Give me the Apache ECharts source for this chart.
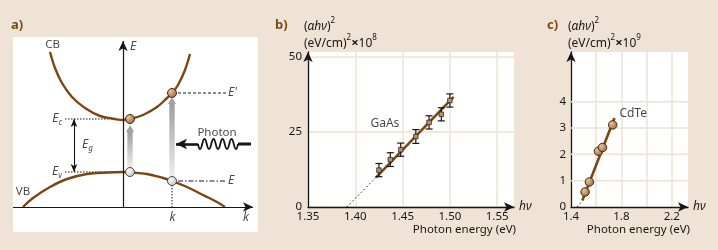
<!DOCTYPE html>
<html>
<head>
<meta charset="utf-8">
<script src="https://cdn.jsdelivr.net/npm/echarts@6/dist/echarts.min.js"></script>
<style>
html, body { margin: 0; padding: 0; background: #efe3d5; }
#chart { width: 718px; height: 250px; }
</style>
</head>
<body>
<div id="chart"></div>
<script>
// panel a: band diagram (k, E in arbitrary units)
var cbCurve = [[-73,155],[-68,139],[-61,124],[-51,110],[-38,99],[-23,91],[-8,88],[0,87],[7,88],[20,92],[34,100],[44,109],[49,114],[55,122],[62,137],[67,153]];
var vbCurve = [[-100,0],[-90,9],[-73,20],[-56,28],[-36,33],[-16,34.5],[0,35],[7,34.5],[24,33],[40,29],[49,26],[64,20],[80,12],[94,5],[102,0]];
var cbDots = [[7,88],[49,114]];
var vbDots = [[7,35],[49,26]];
var absorption = [[7,39,82],[49,30,110]];   // k, from E, to E
var levelEc = [[-58,88],[-15,88]];
var levelEv = [[-58,35],[-1,35]];
var levelEprime = [[55,114],[104,114]];
var levelE = [[55,26],[104,26]];
var dropK = [[49,22],[49,0]];
var gapArrow = [[-49,35],[-49,88]];
var photonWave = [[75,63],[77,58],[81.5,68],[86,58],[90.5,68],[95,58],[99.5,68],[104,58],[108.5,68],[113,58],[115,63]];
var photonTail = [[115,63],[128,63]];
var photonHead = [[75,63],[53,63]];
var kAxis = [[-110,0],[130,0]];
var eAxis = [[0,0],[0,166]];

// panel b: GaAs
var gaasEnergy = [1.425, 1.437, 1.448, 1.464, 1.478, 1.491, 1.500];
var gaasValue = [12.3, 15.8, 19.1, 23.5, 28.2, 30.9, 35.5];
var gaasError = [2.2, 2.3, 2.2, 2.3, 2.2, 2.2, 2.2];
var gaasFit = [[1.422, 9.9], [1.504, 36.7]];
var gaasExtrapolation = [[1.391, 0], [1.422, 9.9]];

// panel c: CdTe
var cdteEnergy = [1.512, 1.546, 1.618, 1.650, 1.731];
var cdteValue = [0.57, 0.95, 2.12, 2.26, 3.12];
var cdteFit = [[1.490, 0.25], [1.745, 3.38]];
var cdteExtrapolation = [[1.45, 0], [1.490, 0.25]];
var cdteGridValues = [1, 2, 3, 4];

var BROWN = '#7a4714';
var INK = '#161616';
var GRID = '#eee2d4';
var FONT = '"Noto Sans", "DejaVu Sans", sans-serif';

var rich = {
    i: { fontStyle: 'italic', fontSize: 12, fontFamily: FONT, color: INK, lineHeight: 16, verticalAlign: 'middle' },
    s: { fontStyle: 'italic', fontSize: 8, fontFamily: FONT, color: INK, lineHeight: 16, verticalAlign: 'bottom' },
    n: { fontSize: 11.5, fontFamily: FONT, color: INK, lineHeight: 16 }
};

var titleRich = {
    i: { fontStyle: 'italic', fontSize: 12, fontFamily: FONT, fill: INK, lineHeight: 16, verticalAlign: 'bottom' },
    n: { fontSize: 12, fontFamily: FONT, fill: INK, lineHeight: 16, verticalAlign: 'bottom' },
    x: { fontSize: 13, fontWeight: 'bold', fontFamily: FONT, fill: INK, lineHeight: 16, verticalAlign: 'bottom' },
    u: { fontSize: 8, fontFamily: FONT, fill: INK, lineHeight: 16, verticalAlign: 'top' }
};

// text, k, E, anchor
var diagramLabels = [
    ['{n|CB}', -70.5, 162, 'c'],
    ['{n|VB}', -100, 15, 'c'],
    ['{i|E}{s|c}', -61, 88, 'r'],
    ['{i|E}{s|v}', -61, 35, 'r'],
    ['{i|E}{s|g}', -41, 62, 'l'],
    ['{i|E\'}', 105, 114, 'l'],
    ['{i|E}', 105, 26, 'l'],
    ['{i|E}', 7, 160, 'l'],
    ['{i|k}', 123, -11, 'c'],
    ['{i|k}', 49.5, -11, 'c'],
    ['{n|Photon}', 94, 74, 'c']
];

function guide(data, type) {
    return {
        type: 'line', xAxisIndex: 0, yAxisIndex: 0, data: data, symbol: 'none', silent: true, z: 3,
        lineStyle: { color: INK, width: 1, type: type }
    };
}

function renderPhotonArrow(params, api) {
    var p0 = api.coord([api.value(0), api.value(1)]);
    var p1 = api.coord([api.value(0), api.value(2)]);
    var head = 7, hw = 4, sw = 2.7;
    return {
        type: 'group',
        children: [
            { type: 'rect', shape: { x: p1[0] - sw, y: p1[1] + head, width: sw * 2, height: p0[1] - p1[1] - head },
              style: { fill: { type: 'linear', x: 0, y: 0, x2: 0, y2: 1, colorStops: [{ offset: 0, color: '#9e9e9e' }, { offset: 1, color: '#f2ede8' }] } } },
            { type: 'polygon', shape: { points: [[p1[0], p1[1]], [p1[0] - hw, p1[1] + head], [p1[0] + hw, p1[1] + head]] },
              style: { fill: '#a2a2a2' } }
        ]
    };
}

function renderErrorBar(params, api) {
    var x = api.value(0), y = api.value(1), e = api.value(2);
    var top = api.coord([x, y + e]), bot = api.coord([x, y - e]);
    var w = 3.5;
    var st = { stroke: INK, lineWidth: 1.2 };
    return {
        type: 'group',
        children: [
            { type: 'line', shape: { x1: top[0], y1: top[1], x2: bot[0], y2: bot[1] }, style: st },
            { type: 'line', shape: { x1: top[0] - w, y1: top[1], x2: top[0] + w, y2: top[1] }, style: st },
            { type: 'line', shape: { x1: bot[0] - w, y1: bot[1], x2: bot[0] + w, y2: bot[1] }, style: st }
        ]
    };
}

function renderGridLine(params, api) {
    var p = api.coord([api.value(0), api.value(1)]);
    var cs = params.coordSys;
    return { type: 'line', shape: { x1: cs.x, y1: p[1], x2: cs.x + cs.width, y2: p[1] }, style: { stroke: GRID, lineWidth: 1.5 } };
}

var ballBrown = { type: 'radial', x: 0.35, y: 0.35, r: 0.8, colorStops: [{ offset: 0, color: '#e8c49c' }, { offset: 1, color: '#8a5a2e' }] };
var ballWhite = { type: 'radial', x: 0.35, y: 0.35, r: 0.8, colorStops: [{ offset: 0, color: '#ffffff' }, { offset: 1, color: '#b9b9b9' }] };

var valueAxisLine = { show: true, onZero: false, symbol: ['none', 'arrow'], symbolSize: [7, 10], lineStyle: { color: INK, width: 1.3 } };
var tickLabel = { color: INK, fontSize: 11.5, fontFamily: FONT };

function titleText(x, y, text) {
    return { type: 'text', x: x, y: y, style: { text: text, rich: titleRich, verticalAlign: 'middle' } };
}

var myChart = echarts.init(document.getElementById('chart'));
var option = {
    backgroundColor: '#efe3d5',
    animation: false,
    grid: [
        { left: 13, top: 37, width: 245, height: 195, show: true, backgroundColor: '#fff', borderWidth: 0 },
        { left: 308, top: 52, width: 206, height: 155, show: true, backgroundColor: '#fff', borderWidth: 0 },
        { left: 571, top: 52, width: 117, height: 155, show: true, backgroundColor: '#fff', borderWidth: 0 }
    ],
    xAxis: [
        { type: 'value', gridIndex: 0, min: -110, max: 135, show: false },
        {
            type: 'value', gridIndex: 1, min: 1.35, max: 1.5678, interval: 0.05,
            axisLine: valueAxisLine, axisTick: { show: false },
            axisLabel: Object.assign({ margin: 4, showMaxLabel: false, formatter: function (v) { return v.toFixed(2); } }, tickLabel),
            splitLine: { show: true, showMaxLine: false, lineStyle: { color: GRID, width: 1.5 } },
            name: 'hν', nameLocation: 'end', nameGap: 5,
            nameTextStyle: { fontStyle: 'italic', fontSize: 12, fontFamily: FONT, color: INK }
        },
        {
            type: 'value', gridIndex: 2, min: 1.4, max: 2.3286, interval: 0.2,
            axisLine: valueAxisLine, axisTick: { show: false },
            axisLabel: Object.assign({ margin: 4, showMaxLabel: false, formatter: function (v) {
                return Math.round(v * 10) % 4 === 2 ? v.toFixed(1) : '';
            } }, tickLabel),
            splitLine: { show: true, showMaxLine: false, lineStyle: { color: GRID, width: 1.5 } },
            name: 'hν', nameLocation: 'end', nameGap: 5,
            nameTextStyle: { fontStyle: 'italic', fontSize: 12, fontFamily: FONT, color: INK }
        }
    ],
    yAxis: [
        { type: 'value', gridIndex: 0, min: -25, max: 170, show: false },
        {
            type: 'value', gridIndex: 1, min: 0, max: 51.67, interval: 25,
            axisLine: valueAxisLine, axisTick: { show: false },
            axisLabel: Object.assign({ margin: 6, showMaxLabel: false }, tickLabel),
            splitLine: { show: true, showMaxLine: false, lineStyle: { color: GRID, width: 1.5 } }
        },
        {
            type: 'value', gridIndex: 2, min: 0, max: 5.89, interval: 1,
            axisLine: valueAxisLine, axisTick: { show: false },
            axisLabel: Object.assign({ margin: 5, showMaxLabel: false, formatter: function (v) { return v > 4.5 ? '' : String(v); } }, tickLabel),
            splitLine: { show: false }
        }
    ],
    graphic: [
        { type: 'text', x: 11, y: 25, style: { text: 'a)', font: 'bold 13px ' + FONT, fill: '#7a4a14', verticalAlign: 'middle' } },
        { type: 'text', x: 275, y: 25, style: { text: 'b)', font: 'bold 13px ' + FONT, fill: '#7a4a14', verticalAlign: 'middle' } },
        { type: 'text', x: 547, y: 25, style: { text: 'c)', font: 'bold 13px ' + FONT, fill: '#7a4a14', verticalAlign: 'middle' } },
        titleText(304, 25, '{n|(}{i|αhν}{n|)}{u|2}'),
        titleText(304, 42, '{n|(eV/cm)}{u|2}{x|×}{n|10}{u|8}'),
        titleText(568, 25, '{n|(}{i|αhν}{n|)}{u|2}'),
        titleText(568, 42, '{n|(eV/cm)}{u|2}{x|×}{n|10}{u|9}'),
        { type: 'text', x: 516, y: 230, style: { text: 'Photon energy (eV)', font: '11.5px ' + FONT, fill: INK, align: 'right', verticalAlign: 'middle' } },
        { type: 'text', x: 690, y: 230, style: { text: 'Photon energy (eV)', font: '11.5px ' + FONT, fill: INK, align: 'right', verticalAlign: 'middle' } }
    ],
    series: [
        // ---- panel a ----
        {
            type: 'line', xAxisIndex: 0, yAxisIndex: 0, data: cbCurve, smooth: 0.4, symbol: 'none', silent: true, z: 4,
            lineStyle: { color: BROWN, width: 2.4 },
            markLine: {
                silent: true, symbol: ['none', 'arrow'], symbolSize: [7, 10], label: { show: false },
                lineStyle: { color: INK, width: 1.2, type: 'solid' },
                data: [
                    [{ coord: eAxis[0] }, { coord: eAxis[1] }],
                    [{ coord: kAxis[0] }, { coord: kAxis[1] }]
                ]
            }
        },
        {
            type: 'line', xAxisIndex: 0, yAxisIndex: 0, data: vbCurve, smooth: 0.4, symbol: 'none', silent: true, z: 4,
            lineStyle: { color: BROWN, width: 2.4 },
            markLine: {
                silent: true, symbol: ['arrow', 'arrow'], symbolSize: [5, 8], label: { show: false },
                lineStyle: { color: INK, width: 1.1, type: 'solid' },
                data: [[{ coord: gapArrow[0] }, { coord: gapArrow[1] }]]
            }
        },
        guide(levelEc, [1.5, 1.5]),
        guide(levelEv, [1.5, 1.5]),
        guide(levelEprime, [3, 2]),
        guide(levelE, [5, 2, 1.5, 2]),
        guide(dropK, [1.5, 1.5]),
        {
            type: 'line', xAxisIndex: 0, yAxisIndex: 0, data: photonWave, smooth: 0.5, symbol: 'none', silent: true, z: 3,
            lineStyle: { color: INK, width: 1.8 },
            markLine: {
                silent: true, symbol: ['none', 'arrow'], symbolSize: [8, 11], label: { show: false },
                lineStyle: { color: INK, width: 2.6, type: 'solid' },
                data: [[{ coord: photonHead[0] }, { coord: photonHead[1] }]]
            }
        },
        {
            type: 'line', xAxisIndex: 0, yAxisIndex: 0, data: photonTail, symbol: 'none', silent: true, z: 3,
            lineStyle: { color: INK, width: 3 }
        },
        {
            type: 'custom', xAxisIndex: 0, yAxisIndex: 0, data: absorption, renderItem: renderPhotonArrow, silent: true, z: 3,
            encode: { x: 0, y: [1, 2] }
        },
        {
            type: 'scatter', xAxisIndex: 0, yAxisIndex: 0, data: cbDots, symbolSize: 9, silent: true, z: 6,
            itemStyle: { color: ballBrown, borderColor: '#4a2a10', borderWidth: 1, opacity: 1 }
        },
        {
            type: 'scatter', xAxisIndex: 0, yAxisIndex: 0, data: vbDots, symbolSize: 9, silent: true, z: 6,
            itemStyle: { color: ballWhite, borderColor: '#4a4a4a', borderWidth: 1, opacity: 1 }
        },
        {
            type: 'scatter', xAxisIndex: 0, yAxisIndex: 0, symbolSize: 0, silent: true, z: 7,
            data: diagramLabels.map(function (d) {
                var pos = d[3] === 'c' ? 'inside' : (d[3] === 'l' ? 'right' : 'left');
                return { value: [d[1], d[2]], label: { show: true, position: pos, distance: 0, formatter: d[0], rich: rich } };
            })
        },
        // ---- panel b ----
        {
            type: 'line', xAxisIndex: 1, yAxisIndex: 1, data: gaasExtrapolation, symbol: 'none', silent: true, z: 3,
            lineStyle: { color: INK, width: 1, type: [1.5, 2.5] }
        },
        {
            type: 'line', xAxisIndex: 1, yAxisIndex: 1, data: gaasFit, symbol: 'none', silent: true, z: 3,
            lineStyle: { color: BROWN, width: 2.6 }
        },
        {
            type: 'custom', xAxisIndex: 1, yAxisIndex: 1, renderItem: renderErrorBar, silent: true, z: 4,
            encode: { x: 0, y: 1 },
            data: gaasEnergy.map(function (x, i) { return [x, gaasValue[i], gaasError[i]]; })
        },
        {
            type: 'scatter', xAxisIndex: 1, yAxisIndex: 1, symbol: 'rect', symbolSize: 4.5, silent: true, z: 5,
            itemStyle: { color: '#b39374', borderColor: '#3a2814', borderWidth: 0.8, opacity: 1 },
            data: gaasEnergy.map(function (x, i) { return [x, gaasValue[i]]; })
        },
        {
            type: 'scatter', xAxisIndex: 1, yAxisIndex: 1, symbolSize: 0, silent: true, z: 6,
            data: [{ value: [1.416, 27.8], label: { show: true, position: 'right', distance: 0, formatter: 'GaAs',
                color: INK, fontSize: 12, fontFamily: FONT } }]
        },
        // ---- panel c ----
        {
            type: 'custom', xAxisIndex: 2, yAxisIndex: 2, renderItem: renderGridLine, silent: true, z: 1,
            encode: { x: 0, y: 1 },
            data: cdteGridValues.map(function (v) { return [1.4, v]; })
        },
        {
            type: 'line', xAxisIndex: 2, yAxisIndex: 2, data: cdteExtrapolation, symbol: 'none', silent: true, z: 3,
            lineStyle: { color: INK, width: 1, type: [1.5, 2.5] }
        },
        {
            type: 'line', xAxisIndex: 2, yAxisIndex: 2, data: cdteFit, symbol: 'none', silent: true, z: 3,
            lineStyle: { color: BROWN, width: 2.6 }
        },
        {
            type: 'scatter', xAxisIndex: 2, yAxisIndex: 2, symbolSize: 8.5, silent: true, z: 5,
            itemStyle: { color: ballBrown, borderColor: '#4a2a10', borderWidth: 1, opacity: 1 },
            data: cdteEnergy.map(function (x, i) { return [x, cdteValue[i]]; })
        },
        {
            type: 'scatter', xAxisIndex: 2, yAxisIndex: 2, symbolSize: 0, silent: true, z: 6,
            data: [{ value: [1.784, 3.56], label: { show: true, position: 'right', distance: 0, formatter: 'CdTe',
                color: INK, fontSize: 12, fontFamily: FONT } }]
        }
    ]
};
myChart.setOption(option);
</script>
</body>
</html>
